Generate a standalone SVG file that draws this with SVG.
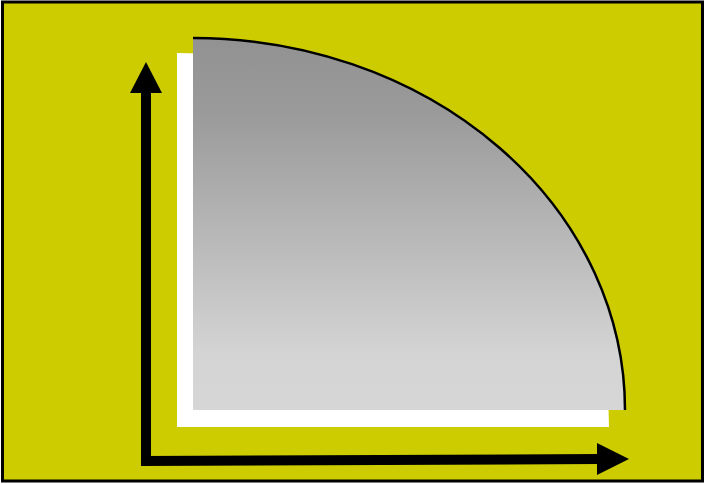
<svg xmlns="http://www.w3.org/2000/svg" width="705" height="484" viewBox="0 0 705 484">
<style>
.axis{stroke:#000;stroke-width:10;fill:none}
.head{fill:#000}
</style>
<defs>
<linearGradient id="g" x1="0" y1="0" x2="0" y2="1">
<stop offset="0" stop-color="#929292"/>
<stop offset="0.2" stop-color="#9a9a9a"/>
<stop offset="0.85" stop-color="#d4d4d4"/>
<stop offset="1" stop-color="#d6d6d6"/>
</linearGradient>
</defs>
<rect x="2.5" y="2" width="700" height="479" fill="#cccc00" stroke="#000" stroke-width="3"/>
<g id="shadow">
<path d="M177 53 A432 374 0 0 1 609 427 L177 427 Z" fill="#fff"/>
</g>
<g id="quadrant">
<path d="M193 38 A432 372 0 0 1 625 410 L193 410 Z" fill="url(#g)"/>
<path d="M193 38 A432 372 0 0 1 625 410" fill="none" stroke="#000" stroke-width="2.5"/>
</g>
<g id="connectors">
<line class="axis" x1="146" y1="465" x2="146" y2="90"/>
<polygon class="head" points="146,62 130,93 162,93"/>
<line class="axis" x1="141" y1="461" x2="600" y2="459"/>
<polygon class="head" points="629,459 597,443 597,475"/>
</g>
</svg>
